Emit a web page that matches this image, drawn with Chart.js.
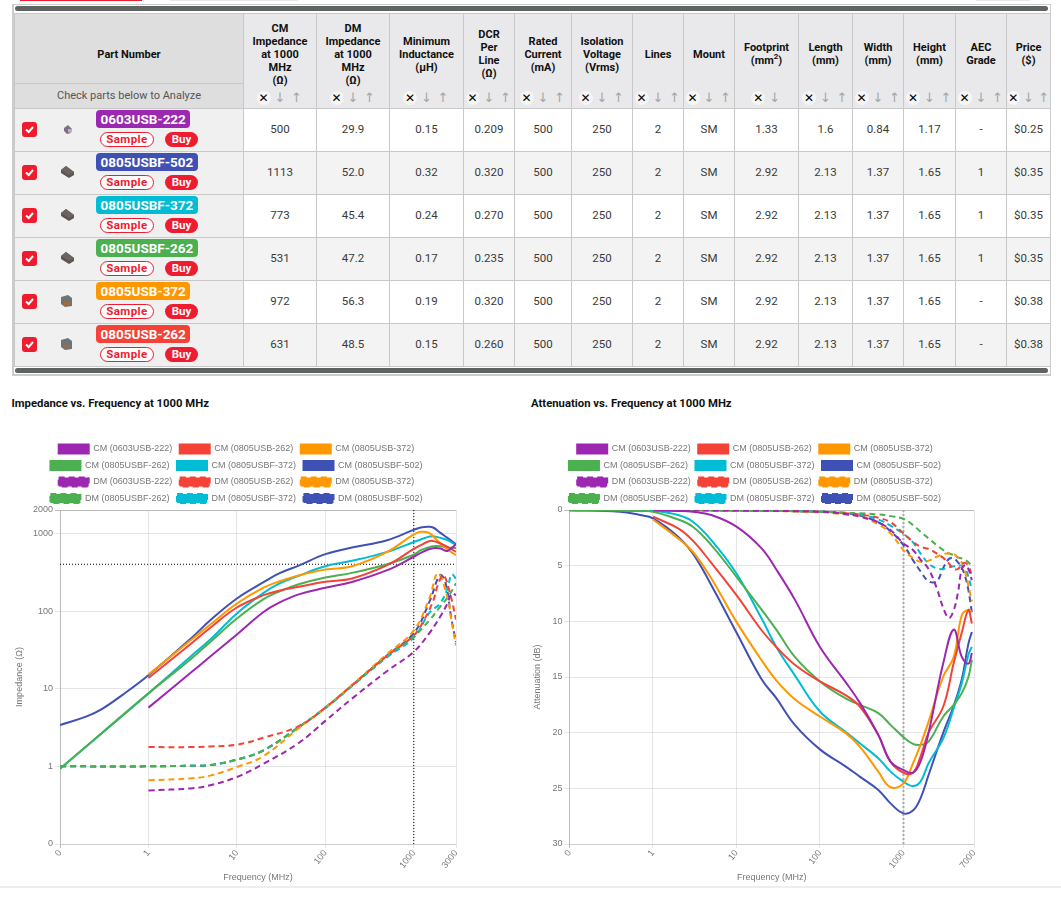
<!DOCTYPE html>
<html>
<head>
<meta charset="utf-8">
<title>Common mode chokes</title>
<script src="https://cdn.jsdelivr.net/npm/chart.js@4/dist/chart.umd.min.js"></script>
<style>
html, body { margin: 0; padding: 0; background: #fff; }
body { width: 1061px; height: 897px; position: relative; overflow: hidden; font-family: Roboto, sans-serif; color: #333; }
.top-bit { position: absolute; top: 0; height: 1px; }
#wrap { position: absolute; left: 12px; top: 4px; width: 1036px; height: 369px; border: 1px solid #ccc; border-width: 1px 1px 2px 2px; overflow: hidden; }
.bar { position: absolute; left: 1px; height: 5px; background: #5f6362; border-radius: 3px; width: 1033px; }
table { position: absolute; left: 0; top: 8px; border-collapse: collapse; table-layout: fixed; width: 1036px; font-size: 11.5px; }
th, td { border: 1px solid #c8c8c8; text-align: center; padding: 0; }
th { background: #e9e9eb; color: #111; font-weight: 700; font-size: 11px; line-height: 13px; height: 94px; position: relative; vertical-align: top; }
th .lbl { position: absolute; left: 0; right: 0; top: 40px; transform: translateY(-50%); }
th .flt { position: absolute; left: 0; right: 0; top: 77px; height: 14px; display: flex; justify-content: center; align-items: center; gap: 2.5px; font-weight: 400; }
.flt .x { width: 14px; height: 14px; border-radius: 7px; background: #f6f6f6; color: #000; font: 700 12px/14px "DejaVu Sans"; }
.flt .a { width: 14px; height: 14px; color: #a5a5a5; font: 400 13px/14px "DejaVu Sans"; }
th.part { background: #dedede; }
th.part .sub { position: absolute; left: 0; right: 0; top: 69px; height: 25px; border-top: 1px solid #c8c8c8; font-weight: 400; color: #555; line-height: 24px; }
td { padding-bottom: 2px; box-sizing: border-box; height: 43px; color: #3a3a3a; }
tr.odd td { background: #fff; }
tr.even td { background: #f3f3f3; }
td.part { background: #f0f0f0 !important; position: relative; }
.chk { position: absolute; left: 7px; top: 13px; width: 15px; height: 15px; border-radius: 3px; background: #ee1c2e; }
.pic { position: absolute; left: 45px; top: 12px; }
.badge { position: absolute; left: 81px; top: 1px; height: 18px; line-height: 18px; padding: 0 4.5px; border-radius: 4px; color: #fff; font-weight: 700; font-size: 13.5px; }
.sample { position: absolute; left: 85px; top: 23px; width: 52px; height: 13px; line-height: 13px; border: 1px solid #ee1c2e; border-radius: 8px; background: #fff; color: #ee1c2e; font-weight: 700; letter-spacing: .4px; }
.buy { position: absolute; left: 150px; top: 23px; width: 33px; height: 15px; line-height: 15px; border-radius: 8px; background: #ee1c2e; color: #fff; font-weight: 700; }
.title { position: absolute; top: 397px; font-size: 11.3px; font-weight: 700; color: #111; line-height: 14px; }
canvas { position: absolute; }
#rule { position: absolute; left: 0; top: 886px; width: 1061px; height: 2px; background: #eee; }
</style>
</head>
<body>
<div class="top-bit" style="left:20px;width:122px;background:#ee1c2e"></div>
<div class="top-bit" style="left:170px;width:128px;background:#e8e8e8"></div>
<div class="top-bit" style="left:976px;width:54px;background:#e8e8e8"></div>
<div id="wrap">
  <div class="bar" style="top:1px"></div>
  <table id="parts"></table>
  <div class="bar" style="top:363px"></div>
</div>
<div class="title" style="left:11.5px">Impedance vs. Frequency at 1000 MHz</div>
<div class="title" style="left:531px">Attenuation vs. Frequency at 1000 MHz</div>
<canvas id="impedance" width="473" height="448" style="left:0;top:437px"></canvas>
<canvas id="attenuation" width="470" height="448" style="left:520px;top:437px"></canvas>
<div id="rule"></div>

<script>
// table
var partNumbers = ["0603USB-222", "0805USBF-502", "0805USBF-372", "0805USBF-262", "0805USB-372", "0805USB-262"];
var partColors = ["#9c27b0", "#3f51b5", "#00bcd4", "#4caf50", "#ff9800", "#f44336"];
var partPics = ["small", "dark", "dark", "dark", "wound", "wound"];
var headers = ["CM<br>Impedance<br>at 1000<br>MHz<br>(Ω)", "DM<br>Impedance<br>at 1000<br>MHz<br>(Ω)", "Minimum<br>Inductance<br>(μH)", "DCR<br>Per<br>Line<br>(Ω)", "Rated<br>Current<br>(mA)", "Isolation<br>Voltage<br>(Vrms)", "Lines", "Mount", "Footprint<br>(mm<sup style=\"font-size:8px;line-height:0\">2</sup>)", "Length<br>(mm)", "Width<br>(mm)", "Height<br>(mm)", "AEC<br>Grade", "Price<br>($)"];
var colWidths = [229, 73, 73, 74, 51, 57, 61, 51, 51, 64, 54, 51, 52, 51, 44];
var cmImpedance = ["500", "1113", "773", "531", "972", "631"];
var dmImpedance = ["29.9", "52.0", "45.4", "47.2", "56.3", "48.5"];
var minInductance = ["0.15", "0.32", "0.24", "0.17", "0.19", "0.15"];
var dcrPerLine = ["0.209", "0.320", "0.270", "0.235", "0.320", "0.260"];
var ratedCurrent = ["500", "500", "500", "500", "500", "500"];
var isolationVoltage = ["250", "250", "250", "250", "250", "250"];
var lineCount = ["2", "2", "2", "2", "2", "2"];
var mountType = ["SM", "SM", "SM", "SM", "SM", "SM"];
var footprint = ["1.33", "2.92", "2.92", "2.92", "2.92", "2.92"];
var lengthMm = ["1.6", "2.13", "2.13", "2.13", "2.13", "2.13"];
var widthMm = ["0.84", "1.37", "1.37", "1.37", "1.37", "1.37"];
var heightMm = ["1.17", "1.65", "1.65", "1.65", "1.65", "1.65"];
var aecGrade = ["-", "1", "1", "1", "-", "-"];
var price = ["$0.25", "$0.35", "$0.35", "$0.35", "$0.38", "$0.38"];

// impedance chart, frequency in MHz, 0.1 is the spot the axis labels "0"
var impXTicks = [0.1, 1, 10, 100, 1000, 3000];
var impYTicks = [0.1, 1, 10, 100, 1000, 2000];
var impCmFreq = [0.1, 0.2, 0.3, 0.5, 1, 3, 5, 10, 20, 30, 50, 100, 200, 500, 1000, 1200, 1450, 1650, 2000, 2400, 3000];
var impCm222 = [null, null, null, null, 5.7, 16, 26, 50, 97, 128, 164, 199, 237, 336, 500, 561, 620, 644, 638, 594, 726];
var impCm262 = [null, null, null, null, 13.7, 37.6, 61, 111, 160, 183, 205, 238, 262, 389, 631, 705, 786, 800, 741, 670, 578];
var impCm372 = [null, null, null, null, 15.2, 42, 67, 125, 200, 240, 287, 342, 378, 578, 972, 1046, 1027, 920, 741, 620, 524];
var impCmF262 = [0.93, null, null, null, 8.7, 24, 40, 80, 142, 178, 221, 270, 310, 401, 531, 608, 658, 684, 684, 658, 650];
var impCmF372 = [0.93, null, null, null, 8.7, 26, 43, 93, 171, 225, 285, 378, 443, 578, 773, 834, 901, 920, 875, 817, 705];
var impCmF502 = [3.4, 4.4, 5.5, 8.2, 14.9, 44, 76, 145, 235, 305, 385, 540, 657, 817, 1113, 1191, 1213, 1191, 1015, 875, 726];
var impDmFreq = [0.1, 1, 3, 5, 10, 20, 50, 100, 200, 500, 1000, 1300, 1500, 1665, 1866, 1980, 2160, 2270, 2400, 2570, 2680, 2800, 3000];
var impDm222 = [null, 0.49, 0.52, 0.57, 0.73, 1.08, 2, 3.85, 7.45, 16.9, 29.9, null, 52, null, null, 84, null, null, 125, null, 168, null, 160];
var impDm262 = [null, 1.77, 1.77, 1.8, 1.9, 2.34, 3.3, 5.7, 11, 26.5, 48.5, 76, null, 137, 215, null, 289, null, null, 168, null, null, 78];
var impDm372 = [null, 0.66, 0.7, 0.76, 0.98, 1.36, 3.1, 5.7, 11.2, 28, 56.3, null, 146, null, 304, null, null, null, 150, null, 72, null, 36];
var impDmF262 = [1, 1, 1.02, 1.04, 1.22, 1.61, 3.2, 5.7, 11, 26.5, 47.2, null, 76, null, null, 113, null, null, 149, null, null, 197, 228];
var impDmF372 = [1, 1, 1.02, 1.04, 1.22, 1.61, 3.2, 5.6, 10.8, 25.5, 45.4, null, 95, null, null, 125, null, null, 195, null, 297, null, 262];
var impDmF502 = [1, 1, 1.02, 1.04, 1.22, 1.61, 3.2, 5.7, 11, 27, 52, null, 131, null, null, 289, null, 237, null, null, 76, null, 40];
var impMarkFreq = 1000;
var impMarkValue = 400;

// attenuation chart
var attXTicks = [0.1, 1, 10, 100, 1000, 7000];
var attCmFreq = [0.1, 0.4, 0.7, 1, 2, 3, 5, 10, 20, 30, 50, 100, 200, 300, 500, 700, 1000, 1300, 1600, 2000, 3000, 4000, 5000, 6000, 6600];
var attCm222 = [null, null, null, 0.03, 0.08, 0.15, 0.45, 1.5, 3.45, 5.35, 8.05, 12.3, 15.4, 17.3, 20.2, 22.6, 23.35, 23.6, 22.6, 20, 13.75, 10.75, 13.2, 13.8, 12.85];
var attCm262 = [null, null, null, 0.6, 1.65, 2.75, 4.75, 7.65, 10.8, 12.3, 13.9, 15.4, 16.6, 17.65, 20.2, 22.6, 23.6, 23.6, 22.15, 20, 17.65, 13.75, 11, 9, 10.2];
var attCm372 = [null, null, null, 0.85, 2.55, 3.75, 6.15, 10.05, 13.5, 15.3, 17, 18.55, 20, 21.25, 23.5, 24.9, 24.55, 22.75, 21.1, 19, 14.95, 13.2, 9.45, 8.95, 9.15];
var attCmF262 = [0.02, 0.05, 0.1, 0.15, 0.85, 1.5, 3.15, 6, 8.95, 10.75, 13.2, 15.4, 16.9, 17.5, 18.25, 19.3, 20.4, 21, 21.1, 20.8, 18.55, 17.5, 16.45, 15, 13.45];
var attCmF372 = [0.02, 0.03, 0.04, 0.05, 0.45, 1.05, 2.7, 5.7, 9.75, 12.3, 14.85, 18.1, 19.9, 20.95, 22.3, 23.5, 24.4, 24.8, 24.4, 22.75, 20.5, 17.8, 15.55, 13, 12.3];
var attCmF502 = [0.02, 0.15, 0.45, 0.75, 2.4, 3.9, 6.75, 11, 15.2, 16.9, 19.3, 21.5, 23, 23.95, 25.15, 26.35, 27.25, 27, 25.9, 23.8, 20, 17.6, 15.2, 12, 10.96];
var attDmFreq = [0.1, 1, 10, 100, 200, 300, 500, 700, 1000, 1300, 1600, 2000, 2500, 3000, 3500, 4000, 4500, 5000, 5500, 6000, 6600];
var attDm222 = [null, 0.02, 0.05, 0.15, 0.35, 0.6, 1.1, 1.8, 3, 3.6, 4.45, 5.3, 7, 8.8, 9.7, 9, 7.4, 5.3, 4.95, 5.3, 6.3];
var attDm262 = [null, 0.02, 0.05, 0.15, 0.3, 0.4, 0.7, 1.1, 2.1, 2.85, 3.3, 3.5, 3.9, 4.3, 4.8, 5.3, 5.3, 4.85, 4.75, 5, 5.9];
var attDm372 = [null, 0.02, 0.05, 0.2, 0.4, 0.55, 1.3, 2.1, 3.6, 4.3, 4.65, 4.55, 4.2, 3.95, 3.9, 3.95, 4.3, 4.75, 5.6, 6.8, 8.2];
var attDmF262 = [0, 0.02, 0.05, 0.15, 0.25, 0.3, 0.4, 0.55, 0.8, 1.35, 1.95, 2.55, 3.15, 3.6, 3.9, 4.05, 4.25, 4.35, 4.5, 4.7, 5.1];
var attDmF372 = [0, 0.02, 0.05, 0.15, 0.25, 0.4, 0.85, 1.4, 2.15, 2.9, 3.9, 4.8, 5.25, 5.3, 5.15, 5.05, 5, 5, 5.3, 6, 7.2];
var attDmF502 = [0, 0.02, 0.05, 0.15, 0.3, 0.5, 1.1, 1.9, 3.15, 4.5, 5.5, 6.4, 6.4, 5.2, 4.4, 4.35, 4.7, 5.2, 6, 7.2, 9.2];
var attMarkFreq = 1000;

var seriesNames = ["0603USB-222", "0805USB-262", "0805USB-372", "0805USBF-262", "0805USBF-372", "0805USBF-502"];
var seriesColors = ["#9c27b0", "#f44336", "#ff9800", "#4caf50", "#00bcd4", "#3f51b5"];

function picHtml(kind) {
    if (kind == "small") {
        return '<svg class="pic" style="left:47px;top:15px" width="12" height="12"><polygon points="2,4 6,1 10,5 9,9 5,10 2,7" fill="#7d6f86"/><polygon points="6,5 10,5 9,9 6,8" fill="#b9b4c4"/></svg>';
    }
    if (kind == "dark") {
        return '<svg class="pic" width="16" height="16"><polygon points="1,6 6,2 14,8 14,11 9,14 1,9" fill="#5d5553"/><polygon points="1,6 6,2 14,8 9,11" fill="#6c6462"/></svg>';
    }
    return '<svg class="pic" width="14" height="16"><polygon points="1,4 8,2 12,5 12,13 5,14 1,11" fill="#6f7375"/><rect x="4" y="9" width="6" height="3" fill="#a86a35"/></svg>';
}

function filterHtml(col) {
    var arrows = col == 8 ? '<span class="a">↓</span>' : '<span class="a">↓</span><span class="a">↑</span>';
    return '<div class="flt"><span class="x">✕</span>' + arrows + '</div>';
}

var tableColumns = [cmImpedance, dmImpedance, minInductance, dcrPerLine, ratedCurrent, isolationVoltage, lineCount, mountType, footprint, lengthMm, widthMm, heightMm, aecGrade, price];
var html = "<colgroup>";
colWidths.forEach(function(w) { html += '<col style="width:' + w + 'px">'; });
html += '</colgroup><tr><th class="part"><div class="lbl">Part Number</div><div class="sub">Check parts below to Analyze</div></th>';
headers.forEach(function(h, i) {
    html += '<th><div class="lbl">' + h + '</div>' + filterHtml(i) + '</th>';
});
html += "</tr>";
partNumbers.forEach(function(p, r) {
    html += '<tr class="' + (r % 2 ? "even" : "odd") + '"><td class="part">';
    html += '<div class="chk"><svg width="15" height="15"><path d="M4 7.5 L6.7 10 L11 5" stroke="#fff" stroke-width="2" fill="none"/></svg></div>';
    html += picHtml(partPics[r]);
    html += '<div class="badge" style="background:' + partColors[r] + '">' + p + '</div>';
    html += '<div class="sample">Sample</div><div class="buy">Buy</div></td>';
    tableColumns.forEach(function(col) { html += "<td>" + col[r] + "</td>"; });
    html += "</tr>";
});
document.getElementById("parts").innerHTML = html;

// charts
var zip = function(xs, ys) {
    return xs.map(function(x, i) { return {x: x, y: ys[i]}; });
};

var curve = function(label, color, xs, ys, dashed) {
    return {
        label: label,
        data: zip(xs, ys),
        borderColor: color,
        backgroundColor: color,
        borderWidth: 2,
        borderDash: dashed ? [6, 4] : [],
        pointRadius: 0,
        spanGaps: true,
        tension: 0.4
    };
};

var marker = function(xs, ys, color, width, dash) {
    return {
        label: "",
        data: zip(xs, ys),
        borderColor: color,
        backgroundColor: color,
        borderWidth: width,
        borderDash: dash,
        pointRadius: 0
    };
};

var buildCurves = function(cmFreq, cm, dmFreq, dm) {
    var sets = [];
    cm.forEach(function(ys, i) { sets.push(curve("CM (" + seriesNames[i] + ")", seriesColors[i], cmFreq, ys, false)); });
    dm.forEach(function(ys, i) { sets.push(curve("DM (" + seriesNames[i] + ")", seriesColors[i], dmFreq, ys, true)); });
    return sets;
};

var tickFont = {family: "'Liberation Sans', Arial", size: 9};

var logLabel = function(value) {
    return value == 0.1 ? "0" : String(value);
};

var xAxis = function(ticks) {
    return {
        type: "logarithmic",
        min: ticks[0],
        max: ticks[ticks.length - 1],
        afterBuildTicks: function(scale) {
            scale.ticks = ticks.map(function(v) { return {value: v}; });
        },
        afterFit: function(scale) { scale.height = 41; },
        ticks: {autoSkip: false, minRotation: 52, maxRotation: 52, padding: 0, color: "#777", font: tickFont, callback: logLabel},
        title: {display: true, text: "Frequency (MHz)", color: "#777", font: tickFont, padding: {top: 6, bottom: 2}},
        grid: {
            tickLength: 4,
            color: function(ctx) { return ctx.index === 0 ? "#bbb" : "rgba(0,0,0,0.1)"; }
        },
        border: {color: "rgba(0,0,0,0.1)"}
    };
};

var yBase = function(text, width, titleOffset) {
    return {
        afterFit: function(scale) { scale.width = width; },
        ticks: {padding: 2, color: "#777", font: tickFont},
        title: {display: true, text: text, color: "#777", font: tickFont, padding: {top: titleOffset, bottom: 0}},
        grid: {
            tickLength: 5,
            color: function(ctx) { return ctx.index === ctx.chart.scales.y.ticks.length - 1 ? "#bbb" : "rgba(0,0,0,0.1)"; }
        },
        border: {color: "#bbb"}
    };
};

// legend sits closer to the plot than its row spacing allows, and a bit right of the plot's centre
var legendPlace = function(shift) {
    return {
        id: "legendPlace",
        beforeLayout: function(chart) {
            var legend = chart.legend;
            var fit = Object.getPrototypeOf(legend).fit;
            legend.fit = function() {
                fit.call(this);
                this.height -= 3;
            };
        },
        afterLayout: function(chart) {
            chart.legend.left += shift;
            chart.legend.right += shift;
        }
    };
};

var chartOptions = function(scales, rightPad) {
    return {
        responsive: false,
        animation: false,
        layout: {padding: {right: rightPad}},
        plugins: {
            tooltip: {enabled: false},
            legend: {
                labels: {
                    boxWidth: 30,
                    boxHeight: 9,
                    padding: 7.5,
                    color: "#777",
                    font: tickFont,
                    filter: function(item) { return item.text !== ""; }
                }
            }
        },
        scales: scales
    };
};

var impY = yBase("Impedance (Ω)", 60, 14);
impY.type = "logarithmic";
impY.min = impYTicks[0];
impY.max = impYTicks[impYTicks.length - 1];
impY.afterBuildTicks = function(scale) {
    scale.ticks = impYTicks.map(function(v) { return {value: v}; });
};
impY.ticks.callback = logLabel;

var impSets = buildCurves(impCmFreq, [impCm222, impCm262, impCm372, impCmF262, impCmF372, impCmF502],
    impDmFreq, [impDm222, impDm262, impDm372, impDmF262, impDmF372, impDmF502]);
impSets.push(marker([impMarkFreq, impMarkFreq], [impYTicks[0], impYTicks[5]], "#000", 1, [1, 2]));
impSets.push(marker([impXTicks[0], impXTicks[5]], [impMarkValue, impMarkValue], "#000", 1, [1, 2]));

var impedanceChart = new Chart("impedance", {
    type: "line",
    data: {datasets: impSets},
    options: chartOptions({x: xAxis(impXTicks), y: impY}, 17),
    plugins: [legendPlace(8.5)]
});

var attY = yBase("Attenuation (dB)", 49.5, 12);
attY.type = "linear";
attY.reverse = true;
attY.min = 0;
attY.max = 30;
attY.ticks.stepSize = 5;
attY.grid.color = function(ctx) { return ctx.tick.value === 0 ? "#bbb" : "rgba(0,0,0,0.1)"; };

var attSets = buildCurves(attCmFreq, [attCm222, attCm262, attCm372, attCmF262, attCmF372, attCmF502],
    attDmFreq, [attDm222, attDm262, attDm372, attDmF262, attDmF372, attDmF502]);
attSets.push(marker([attMarkFreq, attMarkFreq], [0, 30], "#aaa", 2, [2, 2]));

var attenuationChart = new Chart("attenuation", {
    type: "line",
    data: {datasets: attSets},
    options: chartOptions({x: xAxis(attXTicks), y: attY}, 16),
    plugins: [legendPlace(8)]
});
</script>
</body>
</html>
